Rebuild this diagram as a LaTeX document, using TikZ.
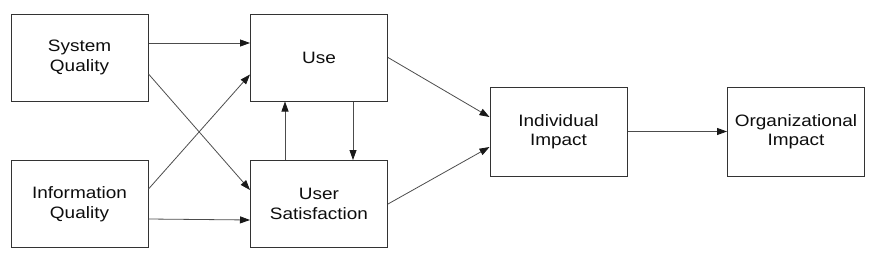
\documentclass[tikz,border=0pt]{standalone}
\usepackage{fontspec}
\setmainfont{Liberation Sans}[FakeStretch=1.15]
\usetikzlibrary{arrows.meta}
\begin{document}
\begin{tikzpicture}[x=1pt,y=-1pt,
  box/.style={draw=black!80,line width=1pt,minimum width=137pt,minimum height=87pt,
    align=center,inner sep=0pt,font=\fontsize{16.5}{19.5}\selectfont,text=black!95},
  conn/.style={draw=black!70,line width=0.8pt,-{Triangle[length=10pt,width=7pt,color=black!90]}}]
\useasboundingbox (0,0) rectangle (872,257);
\node[box] (sq) at (79.5,57.5) {System\\Quality};
\node[box] (iq) at (79.5,204) {Information\\Quality};
\node[box] (use) at (319,57.5) {Use};
\node[box] (us) at (319,204) {User\\Satisfaction};
\node[box,minimum height=89pt] (ii) at (558.5,131.5) {Individual\\Impact};
\node[box,minimum height=89pt] (oi) at (796,131.5) {Organizational\\Impact};
\draw[conn] ([yshift=14.5pt]sq.east) -- ([yshift=14.5pt]use.west);
\draw[conn] ([yshift=-16.5pt]sq.east) -- ([yshift=14pt]us.west);
\draw[conn] ([yshift=15pt]iq.east) -- ([yshift=-17pt]use.west);
\draw[conn] ([yshift=-15pt]iq.east) -- ([yshift=-16pt]us.west);
\draw[conn] ([xshift=-34pt]us.north) -- ([xshift=-34pt]use.south);
\draw[conn] ([xshift=34pt]use.south) -- ([xshift=34pt]us.north);
\draw[conn] (use.east) -- ([yshift=14.5pt]ii.west);
\draw[conn] (us.east) -- ([yshift=-15.5pt]ii.west);
\draw[conn] (ii.east) -- (oi.west);
\end{tikzpicture}
\end{document}
